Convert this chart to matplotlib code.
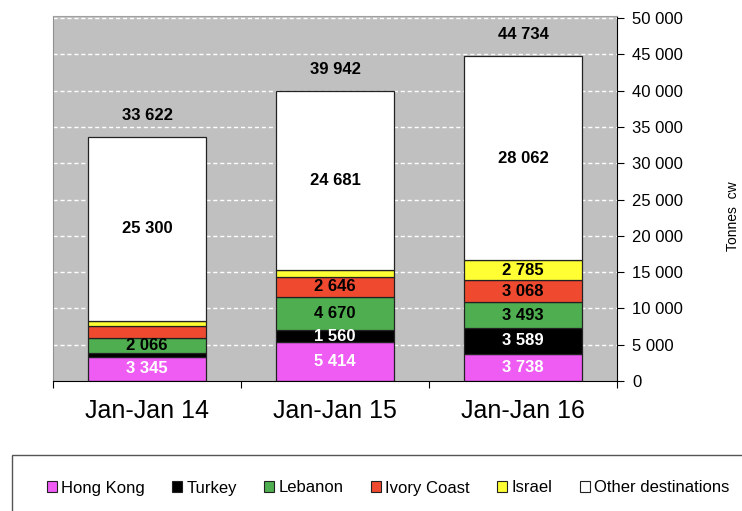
import matplotlib.pyplot as plt
from matplotlib.patches import Rectangle, Patch
import numpy as np

plt.rcParams['font.family'] = ['Liberation Sans', 'DejaVu Sans']

categories = ["Jan-Jan 14", "Jan-Jan 15", "Jan-Jan 16"]
series = ["Hong Kong", "Turkey", "Lebanon", "Ivory Coast", "Israel", "Other destinations"]
hong_kong = [3345, 5414, 3738]
turkey = [450, 1560, 3589]
lebanon = [2066, 4670, 3493]
ivory_coast = [1760, 2646, 3068]
israel = [701, 971, 2785]
other = [25300, 24681, 28062]
totals = [33622, 39942, 44734]
# which segment values are labelled in the original
show_label = {
    "Hong Kong": [True, True, True],
    "Turkey": [False, True, True],
    "Lebanon": [True, True, True],
    "Ivory Coast": [False, True, True],
    "Israel": [False, False, True],
    "Other destinations": [True, True, True],
}
yticks = list(range(0, 50001, 5000))

data = [hong_kong, turkey, lebanon, ivory_coast, israel, other]
colors = ["#ee5cf4", "#000000", "#4fae4f", "#ef4a2f", "#ffff33", "#ffffff"]
txtcolors = ["white", "white", "black", "black", "black", "black"]

def fmt(v):
    return f"{v:,}".replace(",", " ")

fig = plt.figure(figsize=(7.42, 5.11), dpi=100)
ax = fig.add_axes([53/742, 1-381/511, (617-53)/742, (381-16)/511])
ax.set_facecolor("#c0c0c0")
x = np.arange(len(categories))
ax.set_xlim(-0.5, 2.5)
ax.set_ylim(0, 50300)
for yv in yticks[1:]:
    ax.axhline(yv, color="white", lw=1, ls=(0, (3, 2)), zorder=1)

bottom = np.zeros(len(categories))
w = 0.63
for name, vals, c, tc in zip(series, data, colors, txtcolors):
    vals = np.array(vals, dtype=float)
    ax.bar(x, vals, w, bottom=bottom, color=c, edgecolor="#222222", lw=0.9, zorder=2)
    for i in range(len(x)):
        if show_label[name][i]:
            ax.text(x[i], bottom[i] + vals[i] / 2, fmt(int(vals[i])), ha="center", va="center",
                    color=tc, fontsize=12, fontweight="bold", zorder=3)
    bottom += vals

for i, t in enumerate(totals):
    ax.annotate(fmt(t), (x[i], t), xytext=(0, 22), textcoords="offset pixels",
                ha="center", va="center", fontsize=12, fontweight="bold")

ax.yaxis.tick_right()
ax.set_yticks(yticks)
ax.set_yticklabels([fmt(v) for v in yticks], fontsize=12)
ax.tick_params(axis="y", direction="out", length=5, width=0.8, pad=6)
ax.set_xticks([-0.5, 0.5, 1.5, 2.5], minor=False)
ax.set_xticklabels([])
ax.tick_params(axis="x", direction="out", length=5, width=0.8)
ax.set_xticks(x, minor=True)
ax.set_xticklabels(categories, minor=True, fontsize=18)
ax.tick_params(axis="x", which="minor", length=0, pad=13)
ax.spines["top"].set_color("#a0a0a0")
ax.spines["left"].set_color("#909090")
ax.spines["right"].set_color("#000000")
ax.spines["bottom"].set_color("#000000")

fig.text(733/742, 1-216/511, "Tonnes  cw", rotation=90, ha="center", va="center", fontsize=10)

fig.patches.append(Rectangle((12/742, -0.01), 1, (511-455)/511 + 0.01, transform=fig.transFigure,
                             fill=False, edgecolor="#555555", lw=1))
handles = [Patch(facecolor=c, edgecolor="#222222", lw=0.8) for c in colors]
fig.legend(handles, series, loc="center", bbox_to_anchor=(388/742, 1-488/511), ncol=6,
           frameon=False, fontsize=12, handlelength=0.6, handleheight=0.6,
           handletextpad=0.25, columnspacing=1.65)

fig.savefig("out.png", dpi=100)
